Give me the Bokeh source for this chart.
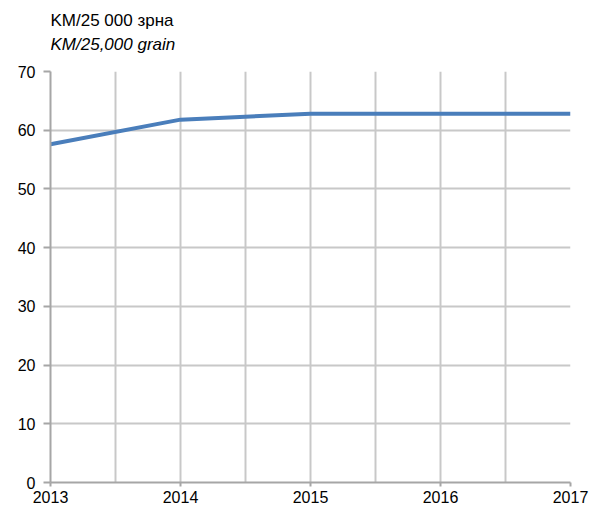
from bokeh.plotting import figure
from bokeh.models import FixedTicker, Range1d
from bokeh.layouts import column
from bokeh.core.properties import value
from bokeh.embed import file_html
from bokeh.resources import INLINE

years = [2013, 2014, 2015, 2016, 2017]
values = [57.6, 61.8, 62.8, 62.8, 62.8]
y_ticks = [0, 10, 20, 30, 40, 50, 60, 70]
x_grid = [2013, 2013.5, 2014, 2014.5, 2015, 2015.5, 2016, 2016.5, 2017]
title_1 = "KM/25 000 зрна"
title_2 = "KM/25,000 grain"

FONT = "Liberation Sans"

# Header figure holding the two title lines
head = figure(width=591, height=63, output_backend="svg", toolbar_location=None,
              x_range=Range1d(0, 591), y_range=Range1d(0, 63),
              x_axis_location=None, y_axis_location=None,
              min_border=0, min_border_left=0, min_border_right=0,
              min_border_top=0, min_border_bottom=0)
head.grid.visible = False
head.outline_line_color = None
head.text(x=[0], y=[43], text=[title_1], text_font=value(FONT), text_font_size="17px",
          text_color="#000000", text_baseline="middle", text_align="left")
head.text(x=[0], y=[19], text=[title_2], text_font=value(FONT), text_font_size="17px",
          text_font_style="italic", text_color="#000000", text_baseline="middle",
          text_align="left")

p = figure(width=591, height=452, output_backend="svg", toolbar_location=None,
           x_range=Range1d(2013, 2017), y_range=Range1d(0, 70),
           min_border_left=50, min_border_right=21, min_border_bottom=33, min_border_top=8)
p.outline_line_color = None

p.line(years, values, line_color="#4A7EBB", line_width=4)

p.xaxis.ticker = FixedTicker(ticks=years)
p.yaxis.ticker = FixedTicker(ticks=y_ticks)
p.xgrid.ticker = FixedTicker(ticks=x_grid)
p.ygrid.ticker = FixedTicker(ticks=y_ticks)
p.xaxis.formatter.use_scientific = False

for ax in (p.xaxis, p.yaxis):
    ax.axis_line_color = "#A6A6A6"
    ax.axis_line_width = 2
    ax.major_tick_line_color = "#A6A6A6"
    ax.major_tick_line_width = 2
    ax.minor_tick_line_color = None
    ax.major_tick_in = 0
    ax.major_label_text_font = FONT
    ax.major_label_text_font_size = "16px"
    ax.major_label_text_color = "#000000"

p.yaxis.major_tick_out = 7
p.yaxis.major_label_standoff = 8
p.xaxis.major_tick_out = 4
p.xaxis.major_label_standoff = 4

p.xgrid.grid_line_color = "#C8C8C8"
p.xgrid.grid_line_width = 2
p.ygrid.grid_line_color = "#C8C8C8"
p.ygrid.grid_line_width = 2

layout = column(head, p, spacing=0)
open("out.html", "w").write(file_html(layout, INLINE))
